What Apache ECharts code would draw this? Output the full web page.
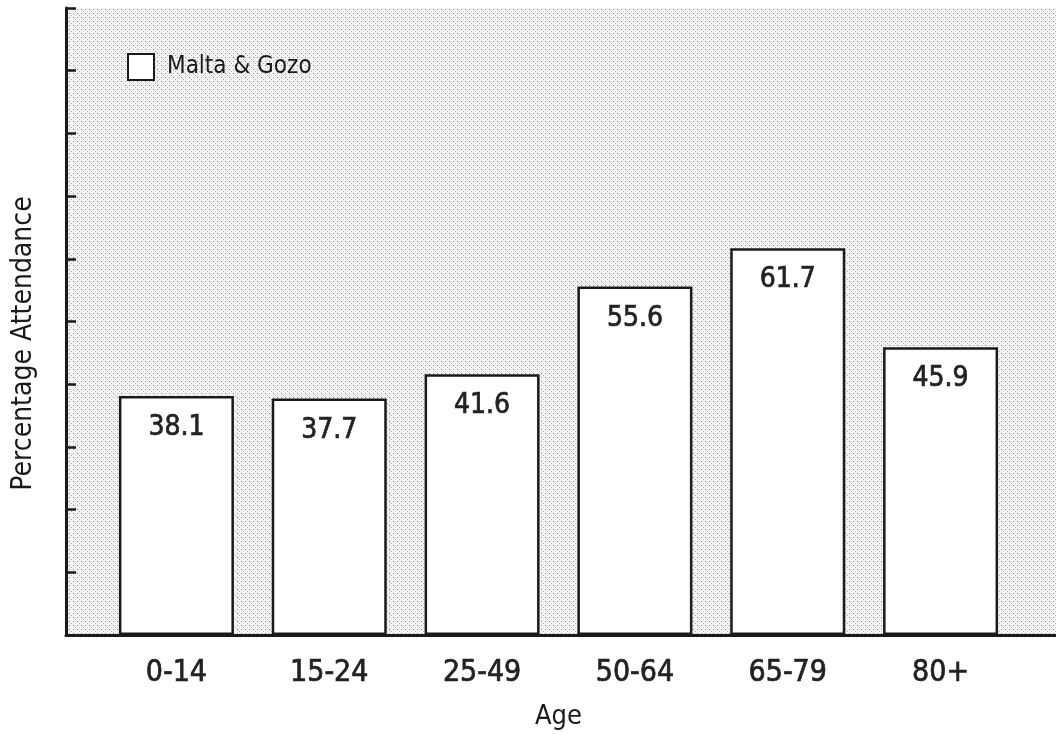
<!DOCTYPE html>
<html>
<head>
<meta charset="utf-8">
<title>Percentage Attendance by Age</title>
<script src="https://cdn.jsdelivr.net/npm/echarts@6/dist/echarts.min.js"></script>
<style>
  html, body { margin: 0; padding: 0; background: #ffffff; }
  #chart { width: 1056px; height: 735px; }
</style>
</head>
<body>
<div id="chart"></div>
<script>
// Age groups and attendance percentages
const ageGroups = ['0-14', '15-24', '25-49', '50-64', '65-79', '80+'];
const attendance = [38.1, 37.7, 41.6, 55.6, 61.7, 45.9];
const seriesName = 'Malta & Gozo';
const yMin = 0;
const yMax = 100;
const yStep = 10;

const FONT = '"DejaVu Sans Condensed", "DejaVu Sans", sans-serif';
const INK = '#1a1a1a';

// Stippled halftone tile for the plotting area
function stippleTile() {
  const c = document.createElement('canvas');
  c.width = 8; c.height = 8;
  const g = c.getContext('2d');
  g.fillStyle = '#f2f2f2';
  g.fillRect(0, 0, 8, 8);
  g.fillStyle = '#7a7a7a';
  g.fillRect(1, 1, 1, 1);
  g.fillRect(5, 5, 1, 1);
  g.fillStyle = '#ababab';
  g.fillRect(5, 1, 1, 1);
  g.fillRect(1, 5, 1, 1);
  g.fillRect(3, 3, 1, 1);
  g.fillRect(7, 7, 1, 1);
  return c;
}

// Medium-weight numerals: regular face with a hairline outline
const numeralStyle = {
  fontFamily: FONT,
  color: '#222222',
  textBorderColor: '#222222',
  textBorderWidth: 0.7
};

const chart = echarts.init(document.getElementById('chart'), null, { renderer: 'canvas' });

chart.setOption({
  animation: false,
  backgroundColor: '#ffffff',
  legend: {
    data: [seriesName],
    left: 122,
    top: 48,
    icon: 'rect',
    itemWidth: 26,
    itemHeight: 26,
    itemGap: 10,
    textStyle: { fontFamily: FONT, fontSize: 24, color: INK, padding: [0, 0, 0, 8] },
    itemStyle: { color: '#ffffff', borderColor: INK, borderWidth: 2 }
  },
  grid: [
    // frame: shaded plot area, axes and ticks
    {
      left: 66, right: 0, top: 8, bottom: 100,
      outerBoundsMode: 'none',
      containLabel: false,
      show: true,
      backgroundColor: { image: stippleTile(), repeat: 'repeat' },
      borderWidth: 0
    },
    // bars
    { left: 100, right: 39, top: 8, bottom: 100, outerBoundsMode: 'none', containLabel: false }
  ],
  xAxis: [
    {
      gridIndex: 0, type: 'value', min: 0, max: 1,
      axisLine: { show: true, lineStyle: { color: INK, width: 3 } },
      axisTick: { show: false }, axisLabel: { show: false }, splitLine: { show: false }
    },
    {
      gridIndex: 1, type: 'category', data: ageGroups,
      name: 'Age', nameLocation: 'middle', nameGap: 68,
      nameTextStyle: { fontFamily: FONT, fontSize: 27, color: INK },
      axisLine: { show: false }, axisTick: { show: false },
      axisLabel: Object.assign({ margin: 23, fontSize: 30 }, numeralStyle)
    }
  ],
  yAxis: [
    {
      gridIndex: 0, type: 'value', min: yMin, max: yMax, interval: yStep,
      name: 'Percentage Attendance', nameLocation: 'middle', nameGap: 28,
      nameTextStyle: { fontFamily: FONT, fontSize: 28, color: INK, padding: [0, 44, 0, 0] },
      axisLine: { show: true, lineStyle: { color: INK, width: 3 } },
      axisTick: { show: true, inside: true, length: 10, lineStyle: { color: INK, width: 2.5 } },
      axisLabel: { show: false }, splitLine: { show: false }
    },
    {
      gridIndex: 1, type: 'value', min: yMin, max: yMax, interval: yStep,
      axisLine: { show: false }, axisTick: { show: false },
      axisLabel: { show: false }, splitLine: { show: false }
    }
  ],
  series: [
    {
      name: seriesName,
      type: 'bar',
      xAxisIndex: 1,
      yAxisIndex: 1,
      data: attendance,
      barWidth: 115,
      itemStyle: { color: '#ffffff', borderColor: INK, borderWidth: 2.5 },
      label: Object.assign({
        show: true,
        position: 'insideTop',
        distance: 18,
        fontSize: 28,
        formatter: p => p.value.toFixed(1)
      }, numeralStyle)
    }
  ]
});
</script>
</body>
</html>
